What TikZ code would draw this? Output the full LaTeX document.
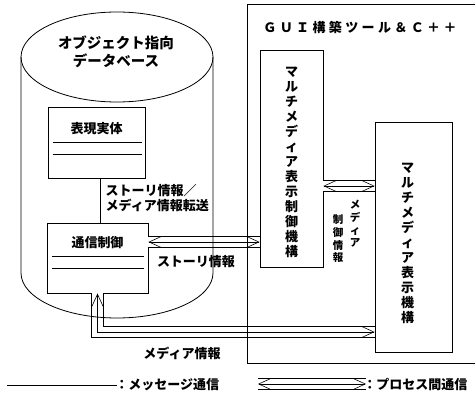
\documentclass[tikz,border=0pt]{standalone}
\usepackage{fontspec}
\setmainfont{Noto Sans CJK JP}
\usetikzlibrary{arrows.meta}

\tikzset{
  box/.style={draw, line width=0.9pt, inner sep=0pt},
  rails/.style={draw, line width=0.8pt, double distance=10.5pt},
  ipc/.style={draw, line width=0.6pt,
    {Straight Barb[length=12pt,width=11pt]}-{Straight Barb[length=12pt,width=11pt]}},
  vtext/.style={align=center, inner sep=0pt},
}
% inter-process link: two rails with a double-headed arrow between them
\newcommand{\ipcpath}[1]{\path[rails] #1; \path[ipc] #1;}

\begin{document}
\begin{tikzpicture}[x=1pt, y=-1pt, font=\fontsize{13}{15}\selectfont\bfseries, line width=0.8pt]
\useasboundingbox (0,0) rectangle (475,401);

% objects inside the database
\node[box, minimum width=97pt, minimum height=71pt] (entity) at (96.5,142.5) {};
\node (entity-name) at ([yshift=14pt]entity.center) {表現実体};
\draw ([xshift=5pt]entity.west) -- ([xshift=-3pt]entity.east);
\draw ([xshift=5pt,yshift=-12pt]entity.west) -- ([xshift=-3pt,yshift=-12pt]entity.east);

\node[box, minimum width=101pt, minimum height=70pt] (comm) at (97.5,258) {};
\node (comm-name) at ([yshift=15pt]comm.center) {通信制御};
\draw ([xshift=5pt,yshift=2pt]comm.west) -- ([xshift=-4pt,yshift=2pt]comm.east);
\draw ([xshift=5pt,yshift=-10pt]comm.west) -- ([xshift=-4pt,yshift=-10pt]comm.east);

% GUI side
\node[box, minimum width=63pt, minimum height=217pt] (ctrl) at (291.5,158.5) {};
\node[vtext] (ctrl-name) at ([yshift=-4pt]ctrl.center)
  {マ\\ル\\チ\\メ\\デ\\ィ\\ア\\表\\示\\制\\御\\機\\構};

\node[box, minimum width=77pt, minimum height=230pt] (disp) at (413.5,237) {};
\node[vtext] (disp-name) at ([xshift=-6pt,yshift=-6pt]disp.center)
  {マ\\ル\\チ\\メ\\デ\\ィ\\ア\\表\\示\\機\\構};

\node[vtext, font=\fontsize{10.5}{12.7}\selectfont\bfseries] (ctrl-info-a) at (355,224) {メ\\デ\\ィ\\ア};
\node[vtext, font=\fontsize{10.5}{12.7}\selectfont\bfseries] (ctrl-info-b) at (338,239) {制\\御\\情\\報};

% links
\draw ([xshift=3.5pt]entity.south) -- ([xshift=3.5pt]entity.south |- comm.north);
\ipcpath{([yshift=-27.5pt]ctrl.east) -- ([yshift=-27.5pt]ctrl.east -| disp.west)}
\ipcpath{([yshift=16pt]comm.east) -- ([yshift=16pt]comm.east -| ctrl.west)}
\ipcpath{(comm.south) |- ([yshift=-95pt]disp.west)}

\node[anchor=north west, align=left] (transfer-label) at (102,181) {ストーリ情報／\\メディア情報転送};
\node (story-label) at (196,262) {ストーリ情報};
\node (media-label) at (182,353) {メディア情報};

% database cylinder
\draw (117,57) ellipse [x radius=96pt, y radius=45pt];
\draw (21,57) -- (21,273) arc[start angle=180, end angle=360, x radius=96pt, y radius=45pt] -- (213,57);
\node[align=center, font=\fontsize{14.5}{18}\selectfont\bfseries] (db-name) at (116,52) {オブジェクト指向\\データベース};

% GUI tool frame
\node[box, anchor=north west, minimum width=231pt, minimum height=359pt] (gui) at (247,4) {};
\node (gui-title) at (360,27) {\addfontfeature{LetterSpace=26}ＧＵＩ構築ツール＆Ｃ＋＋};

% key
\node[anchor=west, inner sep=0pt] (msg-key) at (115,385) {：メッセージ通信};
\coordinate (msg-from) at (7,385);
\draw (msg-from) -- ([xshift=2pt]msg-key.west);
\node[anchor=west, inner sep=0pt] (ipc-key) at (363,384) {：プロセス間通信};
\coordinate (ipc-from) at (258,384);
\ipcpath{(ipc-from) -- ([xshift=3pt]ipc-key.west)}
\end{tikzpicture}
\end{document}
